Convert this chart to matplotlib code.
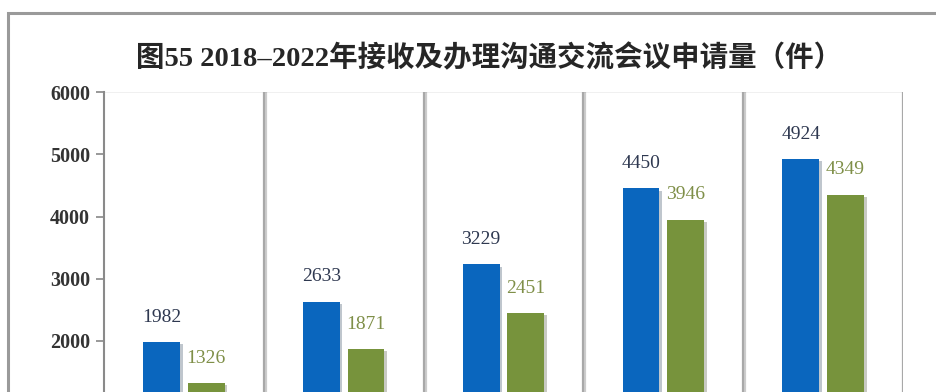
import matplotlib
matplotlib.use('Agg')
import matplotlib.pyplot as plt
import matplotlib.patheffects as pe
from matplotlib.patches import Rectangle
import numpy as np

# data
years = ['2018', '2019', '2020', '2021', '2022']
received = [1982, 2633, 3229, 4450, 4924]
handled = [1326, 1871, 2451, 3946, 4349]
yticks = [0, 1000, 2000, 3000, 4000, 5000, 6000]
title = '图55 2018–2022年接收及办理沟通交流会议申请量（件）'

blue = '#0A66BE'
green = '#77933C'
serif = ['Liberation Serif', 'Noto Sans CJK SC']

fig = plt.figure(figsize=(9.36, 3.92), dpi=100)

# outer frame (runs off the bottom/right of the canvas)
frame = Rectangle((8/936, -0.5), 1.2, (392-13)/392 + 0.5, transform=fig.transFigure,
                  fill=False, edgecolor='#9A9A9A', lw=2.2, zorder=-1)
fig.patches.append(frame)

fig.text(489/936, (392-58)/392, title, ha='center', va='center', fontsize=20.5,
         fontweight='bold', family=serif, color='#262626')

# axes bottom hangs below the canvas so only the upper part of the plot shows
ax = fig.add_axes([104/936, -73.5/392, 799/936, 373.5/392])
x = np.arange(len(years))
off = 0.14
w = 0.23
shadow = [pe.SimplePatchShadow(offset=(2, -1.5), alpha=0.25), pe.Normal()]
b1 = ax.bar(x - off, received, w, color=blue, zorder=3, path_effects=shadow)
b2 = ax.bar(x + off, handled, w, color=green, zorder=3, path_effects=shadow)

for xi, v in zip(x, received):
    ax.text(xi - off, v + 400, str(v), ha='center', va='center', fontsize=14,
            family=serif, color='#2E3850')
for xi, v in zip(x, handled):
    ax.text(xi + off, v + 400, str(v), ha='center', va='center', fontsize=14,
            family=serif, color='#7F8F48')

ax.set_xlim(-0.5, len(years) - 0.5)
ax.set_ylim(0, 6000)
ax.set_yticks(yticks)
ax.set_yticklabels([str(t) for t in yticks], fontsize=14.5, fontweight='bold',
                   family=serif, color='#333333')
ax.set_xticks([])
ax.tick_params(axis='y', direction='out', length=6, width=1.2, color='#888888', pad=4)

for sp in ['top', 'bottom', 'right']:
    ax.spines[sp].set_visible(False)
ax.spines['left'].set_color('#8A8A8A')
ax.spines['left'].set_linewidth(1.5)

# category separators
for xs in np.arange(0.5, len(years), 1.0):
    ax.axvline(xs, color='#A8A8A8', lw=1.6, zorder=1,
               path_effects=[pe.SimpleLineShadow(offset=(1.5, -1), alpha=0.2), pe.Normal()])
ax.axhline(6000, color='#EEEEEE', lw=1.2, zorder=0)

fig.savefig('out.png', dpi=100)
